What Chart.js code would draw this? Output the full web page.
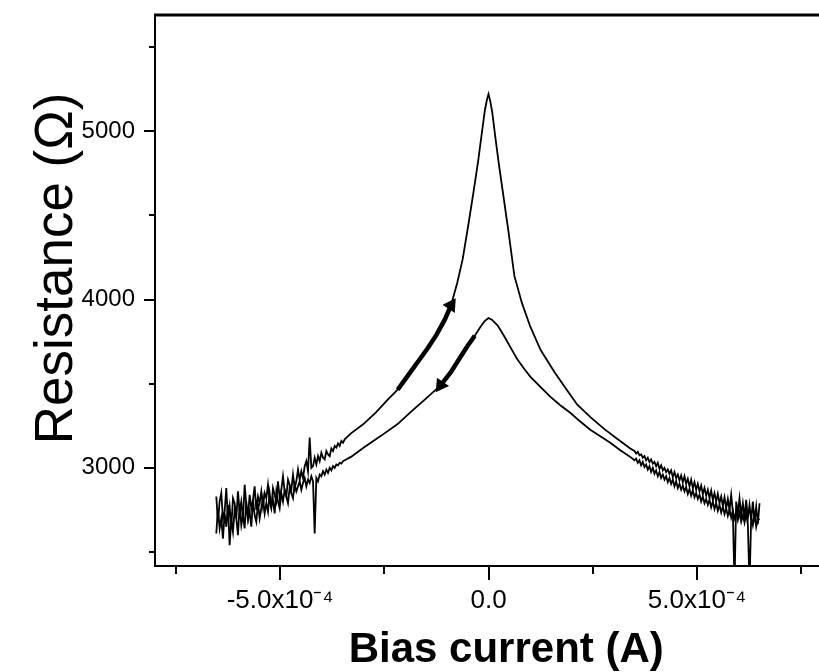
<!DOCTYPE html>
<html>
<head>
<meta charset="utf-8">
<script src="https://cdn.jsdelivr.net/npm/chart.js@4.4.1/dist/chart.umd.min.js"></script>
<style>
	html, body { margin: 0; padding: 0; background: #fff; overflow: hidden; }
	#wrap { width: 866px; height: 672px; }
</style>
</head>
<body>
<div id="wrap"><canvas id="chart" width="866" height="672"></canvas></div>
<script>
// bias current in µA, resistance in ohm

// noisy tails, shared current grid
const tailLeftI = [-653, -649, -645, -641, -637, -633, -629, -625, -621, -617,
	-613, -609, -605, -601, -597, -593, -589, -585, -581, -577,
	-573, -569, -565, -561, -557, -553, -549, -545, -541, -537,
	-533, -529, -525, -521, -517, -513, -509, -505, -501, -497,
	-493, -489, -485, -481, -477, -473, -469, -465, -461, -457,
	-453, -449, -445, -441, -437, -433, -429, -425, -421, -417,
	-413, -409, -405, -401, -397, -393, -389, -385, -381, -377,
	-373, -369, -365, -361, -357, -353, -349, -345];
const tailRightI = [350, 354, 358, 362, 366, 370, 374, 378, 382, 386,
	390, 394, 398, 402, 406, 410, 414, 418, 422, 426,
	430, 434, 438, 442, 446, 450, 454, 458, 462, 466,
	470, 474, 478, 482, 486, 490, 494, 498, 502, 506,
	510, 514, 518, 522, 526, 530, 534, 538, 542, 546,
	550, 554, 558, 562, 566, 570, 574, 578, 582, 586,
	590, 594, 598, 602, 606, 610, 614, 618, 622, 626,
	630, 634, 638, 642, 646, 650];

// upper curve (sharp peak)
const upperLeftR = [2830, 2680, 2800, 2850, 2700, 2740, 2880, 2690, 2770, 2650,
	2820, 2790, 2700, 2860, 2740, 2800, 2690, 2900, 2780, 2710,
	2840, 2760, 2810, 2890, 2750, 2830, 2790, 2860, 2770, 2850,
	2820, 2900, 2800, 2760, 2880, 2840, 2800, 2920, 2820, 2870,
	2950, 2860, 2830, 2930, 2900, 2870, 2960, 2880, 2920, 2990,
	2930, 2980, 2940, 3010, 3040, 2980, 3180, 3000, 3010, 3060,
	3020, 3070, 3040, 3090, 3060, 3050, 3100, 3080, 3070, 3115,
	3100, 3130, 3120, 3145, 3130, 3160, 3150, 3170];
const upperMidI = [-330, -300, -270, -240, -218, -190, -165, -146, -125, -105, -90, -75, -62, -48, -36, -25,
	-16, -9, -4, 0, 4, 9, 16, 25, 36, 48, 62, 80, 100, 125, 158, 190, 213, 245, 278, 310, 340];
const upperMidR = [3205, 3260, 3330, 3410, 3464, 3560, 3645, 3710, 3790, 3880, 3965, 4100, 4240, 4450, 4640, 4820,
	4990, 5120, 5185, 5220, 5180, 5110, 4970, 4800, 4610, 4400, 4140, 3980, 3840, 3700, 3570, 3455, 3375,
	3300, 3230, 3170, 3115];
const upperRightR = [3100, 3085, 3095, 3075, 3080, 3060, 3070, 3045, 3060, 3035,
	3050, 3025, 3035, 3010, 3030, 2995, 3015, 2985, 3000, 2975,
	2990, 2965, 2985, 2945, 2975, 2940, 2960, 2925, 2955, 2915,
	2950, 2905, 2935, 2890, 2930, 2880, 2915, 2870, 2905, 2860,
	2895, 2845, 2880, 2835, 2870, 2820, 2865, 2810, 2850, 2800,
	2845, 2790, 2830, 2775, 2825, 2760, 2815, 2750, 2840, 2740,
	2300, 2800, 2730, 2820, 2720, 2790, 2705, 2810, 2700, 2780,
	2690, 2800, 2680, 2770, 2665, 2790];

// lower curve (rounded peak)
const lowerLeftR = [2610, 2760, 2640, 2700, 2580, 2730, 2650, 2780, 2540, 2690,
	2620, 2750, 2700, 2600, 2780, 2660, 2720, 2640, 2800, 2690,
	2740, 2650, 2810, 2720, 2680, 2790, 2700, 2760, 2820, 2730,
	2790, 2740, 2850, 2770, 2810, 2730, 2860, 2800, 2760, 2850,
	2800, 2870, 2830, 2790, 2880, 2850, 2820, 2900, 2860, 2890,
	2920, 2870, 2910, 2940, 2890, 2930, 2910, 2950, 2920, 2610,
	2940, 2920, 2960, 2950, 2980, 2960, 2990, 2970, 3000, 2985,
	3010, 3000, 3020, 3015, 3030, 3025, 3040, 3045];
const lowerMidI = [-330, -300, -258, -218, -185, -153, -115, -90, -67, -50, -33, -20, -10, 0, 8, 22, 38, 55,
	69, 85, 100, 125, 148, 172, 196, 220, 244, 270, 292, 316, 340];
const lowerMidR = [3065, 3120, 3190, 3260, 3335, 3405, 3490, 3570, 3660, 3725, 3785, 3835, 3870, 3890, 3880,
	3845, 3780, 3705, 3645, 3590, 3542, 3480, 3423, 3372, 3327, 3275, 3226, 3185, 3149, 3105, 3065];
const lowerRightR = [3045, 3055, 3030, 3045, 3015, 3035, 3005, 3020, 2990, 3010,
	2975, 3000, 2965, 2985, 2950, 2975, 2940, 2960, 2930, 2950,
	2915, 2940, 2905, 2930, 2890, 2920, 2880, 2905, 2870, 2895,
	2860, 2885, 2845, 2875, 2835, 2865, 2825, 2850, 2815, 2840,
	2800, 2830, 2790, 2815, 2780, 2810, 2765, 2800, 2755, 2790,
	2745, 2780, 2735, 2770, 2725, 2760, 2715, 2755, 2705, 2745,
	2700, 2740, 2690, 2735, 2680, 2720, 2675, 2730, 2665, 2300,
	2710, 2660, 2720, 2650, 2700, 2690];

// sweep direction arrows: current ranges (µA) drawn thick on each curve
const upperArrowRange = [-218, -90];
const lowerArrowRange = [-115, -33];

const xTickValues = [-7.5e-4, -5e-4, -2.5e-4, 0, 2.5e-4, 5e-4, 7.5e-4];
const xTicksMajor = [-5e-4, 0, 5e-4];
const xTickLabels = ['-5.0x10⁻⁴', '0.0', '5.0x10⁻⁴'];
const yTickValues = [2500, 3000, 3500, 4000, 4500, 5000, 5500];
const yTickLabels = [3000, 4000, 5000];

const FONT = "'Liberation Sans', Arial, sans-serif";

const toPoints = (iArr, rArr) => iArr.map((i, k) => ({x: i * 1e-6, y: rArr[k]}));

const upperPts = [
	...toPoints(tailLeftI, upperLeftR),
	...toPoints(upperMidI, upperMidR),
	...toPoints(tailRightI, upperRightR)
];
const lowerPts = [
	...toPoints(tailLeftI, lowerLeftR),
	...toPoints(lowerMidI, lowerMidR),
	...toPoints(tailRightI, lowerRightR)
];

const inRange = (pts, range) => pts.filter(p => p.x >= range[0] * 1e-6 - 1e-9 && p.x <= range[1] * 1e-6 + 1e-9);
const upperArrow = inRange(upperPts, upperArrowRange);
const lowerArrow = inRange(lowerPts, lowerArrowRange);

const isMajor = (v, step) => Math.abs(v / step - Math.round(v / step)) < 1e-6;

const tickMarks = {
	id: 'tickMarks',
	afterDraw: chart => {
		const {ctx, chartArea, scales: {x, y}} = chart;
		ctx.save();
		ctx.strokeStyle = '#000';
		ctx.lineWidth = 2;
		ctx.beginPath();
		x.ticks.forEach(t => {
			const px = Math.round(x.getPixelForValue(t.value));
			const len = isMajor(t.value, 5e-4) ? 14 : 8;
			ctx.moveTo(px, chartArea.bottom);
			ctx.lineTo(px, chartArea.bottom + len);
		});
		y.ticks.forEach(t => {
			const py = Math.round(y.getPixelForValue(t.value));
			const len = isMajor(t.value, 1000) ? 11 : 6;
			ctx.moveTo(chartArea.left, py);
			ctx.lineTo(chartArea.left - len, py);
		});
		ctx.stroke();
		// top frame
		ctx.lineWidth = 3;
		ctx.beginPath();
		ctx.moveTo(chartArea.left - 1, chartArea.top);
		ctx.lineTo(chartArea.right, chartArea.top);
		ctx.stroke();
		ctx.restore();
	}
};

const curve = data => ({
	data,
	borderColor: '#000',
	borderWidth: 1.8,
	pointRadius: 0,
	tension: 0
});

const arrow = (data, rotation) => ({
	data,
	borderColor: '#000',
	backgroundColor: '#000',
	borderWidth: 4.5,
	tension: 0,
	pointStyle: 'triangle',
	pointRotation: rotation,
	pointRadius: ctx => ctx.dataIndex === (rotation < 90 ? data.length - 1 : 0) ? 4 : 0
});

new Chart(document.getElementById('chart'), {
	type: 'line',
	data: {
		datasets: [
			arrow(upperArrow, 34),
			arrow(lowerArrow, 215),
			curve(upperPts),
			curve(lowerPts)
		]
	},
	plugins: [tickMarks],
	options: {
		responsive: false,
		animation: false,
		layout: {padding: {left: 0, right: 5, top: 15, bottom: 0}},
		plugins: {legend: {display: false}, tooltip: {enabled: false}},
		scales: {
			x: {
				type: 'linear',
				min: -8e-4,
				max: 8.85e-4,
				grid: {display: false, drawTicks: false},
				border: {display: true, color: '#000', width: 2},
				afterBuildTicks: scale => { scale.ticks = xTickValues.map(value => ({value})); },
				ticks: {
					autoSkip: false,
					maxRotation: 0,
					padding: 19,
					color: '#000',
					font: {family: FONT, size: 26},
					callback: v => {
						const k = xTicksMajor.findIndex(m => Math.abs(m - v) < 1e-9);
						return k < 0 ? '' : xTickLabels[k];
					}
				},
				title: {
					display: true,
					text: 'Bias current (A)',
					color: '#000',
					font: {family: FONT, size: 42, weight: 'bold', lineHeight: 1},
					padding: {top: 0, bottom: 1}
				},
				afterFit: scale => {
					scale.height = 106;
					scale.paddingLeft = 0;
					scale.paddingRight = 0;
				}
			},
			y: {
				type: 'linear',
				min: 2417,
				max: 5690,
				grid: {display: false, drawTicks: false},
				border: {display: true, color: '#000', width: 2},
				afterBuildTicks: scale => { scale.ticks = yTickValues.map(value => ({value})); },
				ticks: {
					autoSkip: false,
					padding: 20,
					color: '#000',
					font: {family: FONT, size: 24},
					callback: v => yTickLabels.includes(v) ? String(v) : ''
				},
				title: {
					display: true,
					text: '   Resistance (Ω)',
					color: '#000',
					font: {family: FONT, size: 53, lineHeight: 1},
					padding: {top: 31, bottom: 0}
				},
				afterFit: scale => {
					scale.width = 155;
					scale.paddingTop = 0;
					scale.paddingBottom = 0;
				}
			}
		}
	}
});
</script>
</body>
</html>
